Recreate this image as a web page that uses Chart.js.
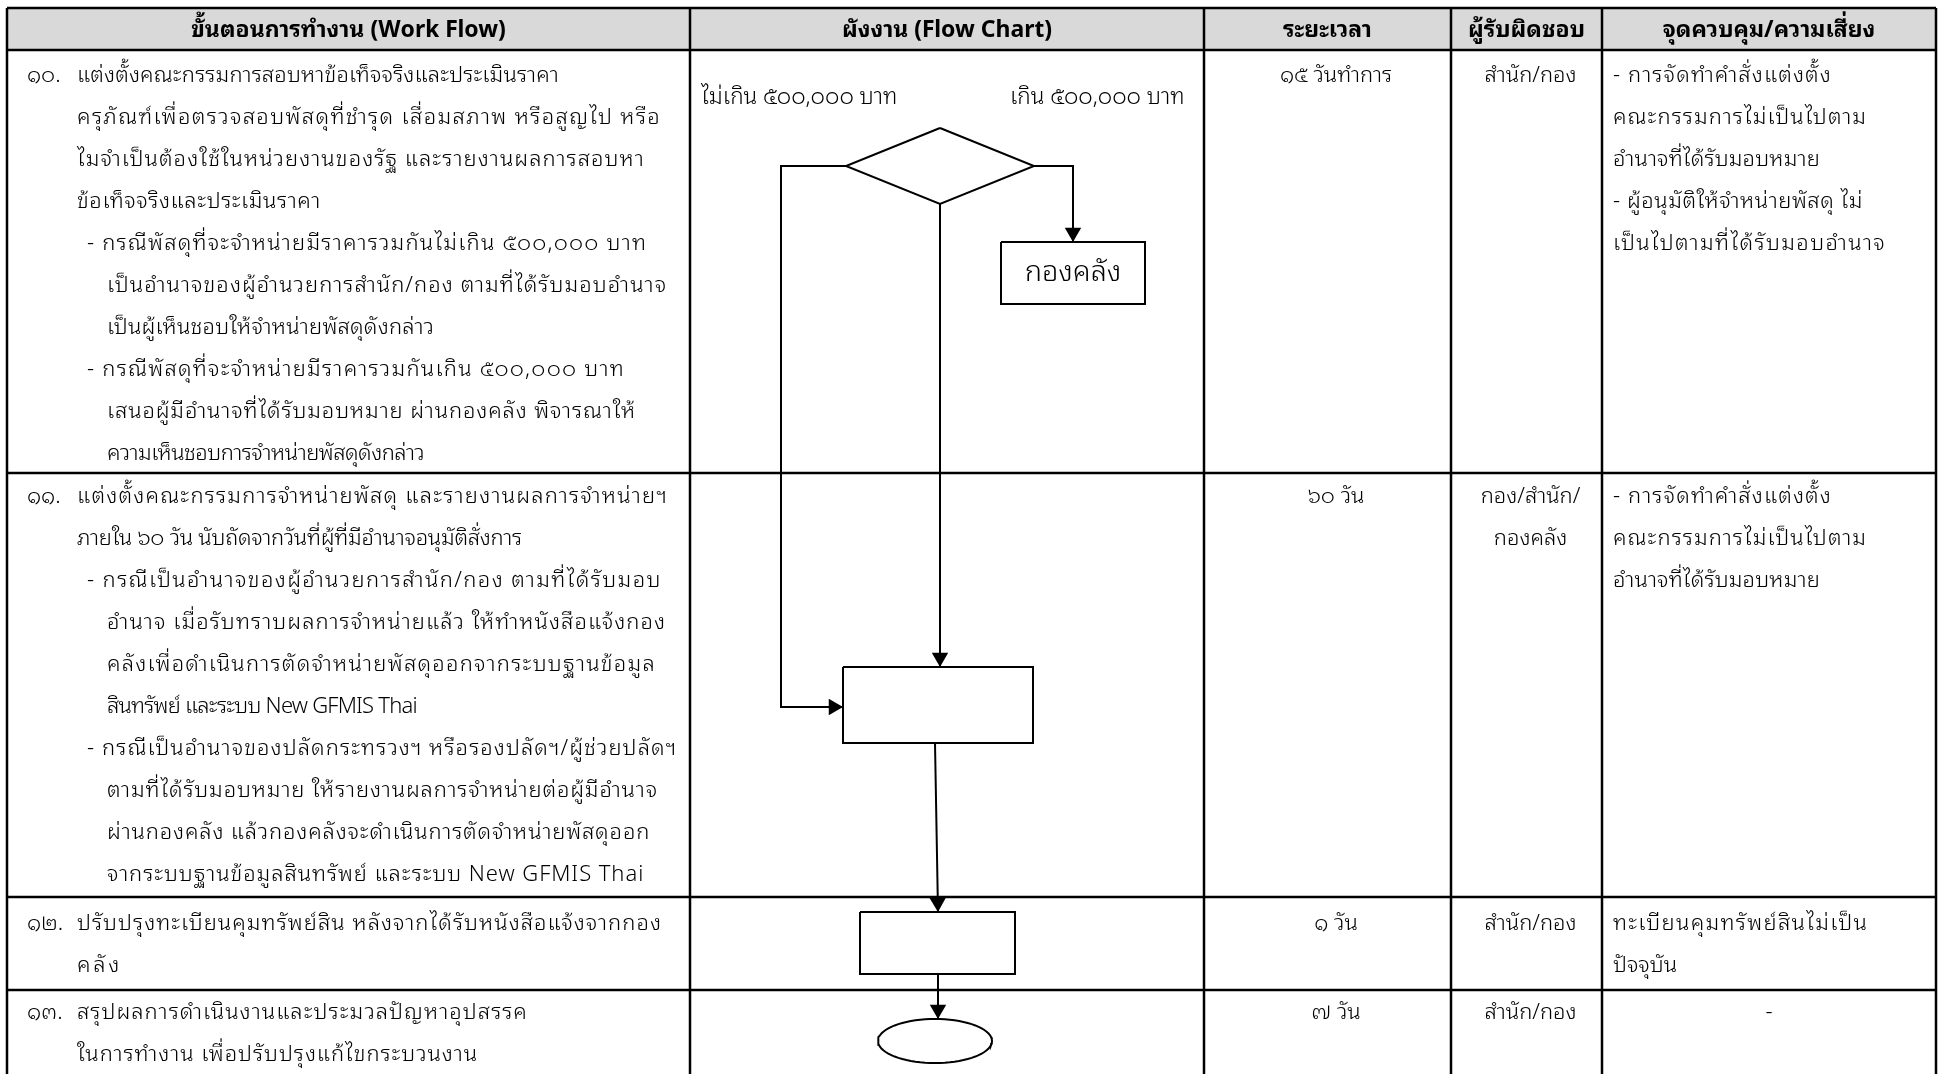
<!DOCTYPE html>
<html>
<head>
<meta charset="utf-8">
<script src="https://cdn.jsdelivr.net/npm/chart.js@4.4.1/dist/chart.umd.min.js"></script>
<style>
  html, body { margin: 0; padding: 0; background: #fff; }
  #wrap { width: 1948px; height: 1074px; position: relative; }
</style>
</head>
<body>
<div id="wrap"><canvas id="flowChart"></canvas></div>
<script>
// ---- table content ----
const headers = ["ขั้นตอนการทำงาน (Work Flow)", "ผังงาน (Flow Chart)", "ระยะเวลา", "ผู้รับผิดชอบ", "จุดควบคุม/ความเสี่ยง"];

const stepNos = ["๑๐.", "๑๑.", "๑๒.", "๑๓."];

const stepTitles = [
  ["แต่งตั้งคณะกรรมการสอบหาข้อเท็จจริงและประเมินราคา",
   "ครุภัณฑ์เพื่อตรวจสอบพัสดุที่ชำรุด เสื่อมสภาพ หรือสูญไป หรือ",
   "ไมจำเป็นต้องใช้ในหน่วยงานของรัฐ และรายงานผลการสอบหา",
   "ข้อเท็จจริงและประเมินราคา"],
  ["แต่งตั้งคณะกรรมการจำหน่ายพัสดุ และรายงานผลการจำหน่ายฯ",
   "ภายใน ๖๐ วัน นับถัดจากวันที่ผู้ที่มีอำนาจอนุมัติสั่งการ"],
  ["ปรับปรุงทะเบียนคุมทรัพย์สิน หลังจากได้รับหนังสือแจ้งจากกอง",
   "คลัง"],
  ["สรุปผลการดำเนินงานและประมวลปัญหาอุปสรรค",
   "ในการทำงาน เพื่อปรับปรุงแก้ไขกระบวนงาน"]
];

const stepCases = [
  [["- กรณีพัสดุที่จะจำหน่ายมีราคารวมกันไม่เกิน ๕๐๐,๐๐๐ บาท",
    "เป็นอำนาจของผู้อำนวยการสำนัก/กอง ตามที่ได้รับมอบอำนาจ",
    "เป็นผู้เห็นชอบให้จำหน่ายพัสดุดังกล่าว"],
   ["- กรณีพัสดุที่จะจำหน่ายมีราคารวมกันเกิน ๕๐๐,๐๐๐ บาท",
    "เสนอผู้มีอำนาจที่ได้รับมอบหมาย ผ่านกองคลัง พิจารณาให้",
    "ความเห็นชอบการจำหน่ายพัสดุดังกล่าว"]],
  [["- กรณีเป็นอำนาจของผู้อำนวยการสำนัก/กอง ตามที่ได้รับมอบ",
    "อำนาจ เมื่อรับทราบผลการจำหน่ายแล้ว ให้ทำหนังสือแจ้งกอง",
    "คลังเพื่อดำเนินการตัดจำหน่ายพัสดุออกจากระบบฐานข้อมูล",
    "สินทรัพย์ และระบบ New GFMIS Thai"],
   ["- กรณีเป็นอำนาจของปลัดกระทรวงฯ หรือรองปลัดฯ/ผู้ช่วยปลัดฯ",
    "ตามที่ได้รับมอบหมาย ให้รายงานผลการจำหน่ายต่อผู้มีอำนาจ",
    "ผ่านกองคลัง แล้วกองคลังจะดำเนินการตัดจำหน่ายพัสดุออก",
    "จากระบบฐานข้อมูลสินทรัพย์ และระบบ New GFMIS Thai"]],
  [],
  []
];

const durations = ["๑๕ วันทำการ", "๖๐ วัน", "๑ วัน", "๗ วัน"];

const owners = [["สำนัก/กอง"], ["กอง/สำนัก/", "กองคลัง"], ["สำนัก/กอง"], ["สำนัก/กอง"]];

const risks = [
  ["- การจัดทำคำสั่งแต่งตั้ง", "คณะกรรมการไม่เป็นไปตาม", "อำนาจที่ได้รับมอบหมาย",
   "- ผู้อนุมัติให้จำหน่ายพัสดุ ไม่", "เป็นไปตามที่ได้รับมอบอำนาจ"],
  ["- การจัดทำคำสั่งแต่งตั้ง", "คณะกรรมการไม่เป็นไปตาม", "อำนาจที่ได้รับมอบหมาย"],
  ["ทะเบียนคุมทรัพย์สินไม่เป็น", "ปัจจุบัน"],
  ["-"]
];

const branchLabels = ["ไม่เกิน ๕๐๐,๐๐๐ บาท", "เกิน ๕๐๐,๐๐๐ บาท"];
const boxLabels = ["กองคลัง", "", ""];

// ---- layout (page units, y grows downward) ----
const colEdges = [7, 690, 1204, 1451, 1602, 1936];
const rowEdges = [8, 50, 473, 897, 990, 1090];
const headerTextY = 31;
const firstLine = [76, 497, 924, 1013];
const lineH = 42;
const FONT = '"Noto Sans Thai Looped", "Noto Sans Thai", "Noto Sans", sans-serif';
const bodySize = 22;
// right end of each text line (the document spreads its Thai lines)
const stepLineEnds = [
  [559, 661, 645, 321, 647, 667, 434, 625, 636, 424],
  [668, 522, 662, 666, 656, 417, 677, 658, 650, 644],
  [662, 122],
  [528, 478]
];
const riskLineEnds = [
  [1832, 1867, 1820, 1863, 1886],
  [1832, 1867, 1820],
  [1868, 1677],
  []
];

// flow chart shapes
const decision = { cx: 940, cy: 166, hw: 94, hh: 38 };
const boxes = [
  { x0: 1001, x1: 1145, y0: 242, y1: 304 },
  { x0: 843, x1: 1033, y0: 667, y1: 743 },
  { x0: 860, x1: 1015, y0: 912, y1: 974 }
];
const terminal = { cx: 935, cy: 1041, rx: 57, ry: 22 };
const connectors = [
  [[846, 166], [781, 166], [781, 707], [843, 707]],
  [[1034, 166], [1073, 166], [1073, 242]],
  [[940, 204], [940, 667]],
  [[935, 743], [938, 912]],
  [[938, 975], [938, 1019]]
];
const arrowR = 9.5;

const pts = arr => arr.map(p => ({ x: p[0], y: p[1] }));

const lineSet = (data, w) => ({
  type: 'line', data: data, showLine: true, fill: false, tension: 0,
  borderColor: '#000', borderWidth: w || 2, pointRadius: 0, pointHoverRadius: 0
});

const datasets = [];
// decision diamond
datasets.push(lineSet(pts([
  [decision.cx, decision.cy - decision.hh], [decision.cx + decision.hw, decision.cy],
  [decision.cx, decision.cy + decision.hh], [decision.cx - decision.hw, decision.cy],
  [decision.cx, decision.cy - decision.hh]])));
// process boxes
boxes.forEach(b => datasets.push(lineSet(pts([
  [b.x0, b.y0], [b.x1, b.y0], [b.x1, b.y1], [b.x0, b.y1], [b.x0, b.y0]]))));
// end terminal
const ell = [];
for (let i = 0; i <= 72; i++) {
  const a = i / 72 * Math.PI * 2;
  ell.push([terminal.cx + terminal.rx * Math.cos(a), terminal.cy + terminal.ry * Math.sin(a)]);
}
datasets.push(lineSet(pts(ell)));
// connectors
connectors.forEach(c => datasets.push(lineSet(pts(c))));
// arrow heads at the end of every connector
const heads = [], rots = [];
connectors.forEach(c => {
  const a = c[c.length - 2], b = c[c.length - 1];
  const dx = b[0] - a[0], dy = b[1] - a[1], len = Math.hypot(dx, dy);
  heads.push({ x: b[0] - dx / len * arrowR, y: b[1] - dy / len * arrowR });
  rots.push(Math.atan2(dx, -dy) * 180 / Math.PI);
});
datasets.push({
  type: 'scatter', data: heads, pointStyle: 'triangle', pointRadius: arrowR,
  pointHoverRadius: arrowR, rotation: rots, backgroundColor: '#000', borderColor: '#000', borderWidth: 0
});

const seg = (typeof Intl !== 'undefined' && Intl.Segmenter) ? new Intl.Segmenter('th', { granularity: 'grapheme' }) : null;
const clusters = s => seg ? [...seg.segment(s)].length : s.length;

// ---- table drawing plugin ----
const tablePlugin = {
  id: 'tablePlugin',
  beforeDatasetsDraw(chart) {
    const { ctx, scales: { x, y } } = chart;
    ctx.save();
    ctx.fillStyle = '#d9d9d9';
    ctx.fillRect(x.getPixelForValue(colEdges[0]), y.getPixelForValue(rowEdges[0]),
      x.getPixelForValue(colEdges[5]) - x.getPixelForValue(colEdges[0]),
      y.getPixelForValue(rowEdges[1]) - y.getPixelForValue(rowEdges[0]));
    ctx.restore();
  },
  afterDatasetsDraw(chart) {
    const { ctx, scales: { x, y } } = chart;
    ctx.save();
    ctx.strokeStyle = '#000';
    ctx.lineWidth = 2.5;
    ctx.beginPath();
    colEdges.forEach(c => {
      ctx.moveTo(x.getPixelForValue(c), y.getPixelForValue(rowEdges[0]));
      ctx.lineTo(x.getPixelForValue(c), y.getPixelForValue(rowEdges[rowEdges.length - 1]));
    });
    rowEdges.slice(0, -1).forEach(r => {
      ctx.moveTo(x.getPixelForValue(colEdges[0]), y.getPixelForValue(r));
      ctx.lineTo(x.getPixelForValue(colEdges[5]), y.getPixelForValue(r));
    });
    ctx.stroke();

    const txt = (s, xv, yv, align, size, weight, endX) => {
      ctx.font = (weight || '300') + ' ' + size + 'px ' + FONT;
      ctx.textAlign = align;
      ctx.textBaseline = 'middle';
      ctx.fillStyle = '#000';
      ctx.letterSpacing = '0px';
      const px = x.getPixelForValue(xv);
      if (endX && align === 'left') {
        const w = ctx.measureText(s).width;
        const target = x.getPixelForValue(endX) - px;
        ctx.letterSpacing = ((target - w) / clusters(s)).toFixed(2) + 'px';
      }
      ctx.fillText(s, px, y.getPixelForValue(yv));
      ctx.letterSpacing = '0px';
    };

    // header
    headers.forEach((h, i) => {
      txt(h, (colEdges[i] + colEdges[i + 1]) / 2, headerTextY, 'center', 23, 'bold');
    });

    // rows
    stepNos.forEach((no, r) => {
      let ly = firstLine[r], li = 0;
      txt(no, 27, ly, 'left', bodySize);
      stepTitles[r].forEach(s => { txt(s, 77, ly, 'left', bodySize, null, stepLineEnds[r][li++]); ly += lineH; });
      stepCases[r].forEach(cs => {
        cs.forEach((s, k) => { txt(s, k === 0 ? 87 : 107, ly, 'left', bodySize, null, stepLineEnds[r][li++]); ly += lineH; });
      });
      txt(durations[r], 1336, firstLine[r], 'center', bodySize);
      owners[r].forEach((s, k) => txt(s, (colEdges[3] + colEdges[4]) / 2 + 4, firstLine[r] + k * lineH, 'center', bodySize));
      risks[r].forEach((s, k) => {
        if (s === '-') txt(s, (colEdges[4] + colEdges[5]) / 2, firstLine[r], 'center', bodySize);
        else txt(s, colEdges[4] + 11, firstLine[r] + k * lineH, 'left', bodySize, null, riskLineEnds[r][k]);
      });
    });

    // flow chart labels
    txt(branchLabels[0], 701, 98, 'left', 22.5);
    txt(branchLabels[1], 1010, 98, 'left', 22.5);
    boxes.forEach((b, i) => {
      if (boxLabels[i]) txt(boxLabels[i], (b.x0 + b.x1) / 2, (b.y0 + b.y1) / 2, 'center', 29);
    });
    ctx.restore();
  }
};

const ctx = document.getElementById('flowChart').getContext('2d');
const flowChart = new Chart(ctx, {
  type: 'scatter',
  data: { datasets: datasets },
  options: {
    responsive: true,
    maintainAspectRatio: false,
    animation: false,
    events: [],
    layout: { padding: 0, autoPadding: false },
    plugins: { legend: { display: false }, tooltip: { enabled: false } },
    scales: {
      x: { type: 'linear', min: 0, max: 1948, display: false },
      y: { type: 'linear', min: 0, max: 1074, reverse: true, display: false }
    }
  },
  plugins: [tablePlugin]
});
</script>
</body>
</html>
